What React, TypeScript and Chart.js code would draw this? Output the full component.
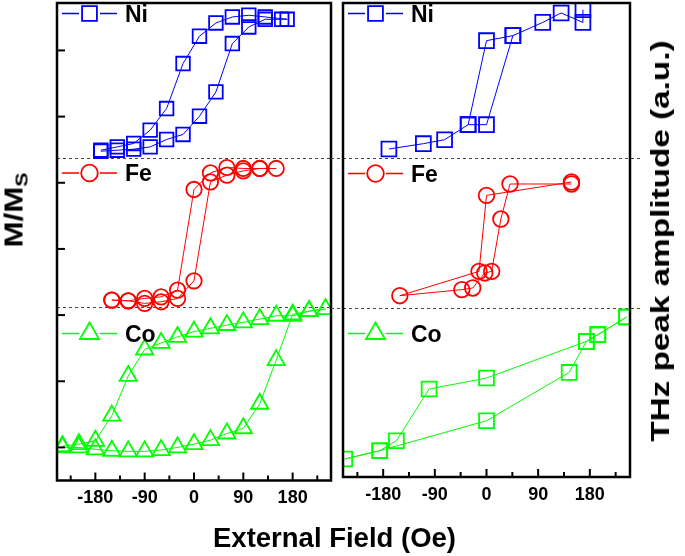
import React, { useEffect, useRef } from 'react';
import { Chart, registerables } from 'chart.js';

Chart.register(...registerables);

const FONT = "'Liberation Sans', Arial, sans-serif";
const BLUE = '#0000FF';
const RED = '#FF0000';
const GREEN = '#00FF00';

// axis ticks (Oe)
const X_TICKS = [-225, -180, -135, -90, -45, 0, 45, 90, 135, 180, 225];
const X_LABELED = [-180, -90, 0, 90, 180];
const LEFT_Y_TICKS = [0, 1, 2, 3, 4, 5, 6];
const LEFT_SEPARATORS = [4.38, 2.12];
const RIGHT_SEPARATORS = [4.32, 2.05];

// Left panel: M/Ms loops (offset per element)
const NI_LEFT_FIELD = [-170, -140, -110, -80, -50, -20, 10, 40, 70, 100, 130, 160, 170, 130, 100, 70, 40, 10, -20, -50, -80, -110, -140, -170];
const NI_LEFT_M = [4.477, 4.492, 4.508, 4.542, 4.654, 4.73, 5.006, 5.373, 6.104, 6.355, 6.471, 6.471, 6.471, 6.506, 6.532, 6.506, 6.415, 6.215, 5.802, 5.122, 4.795, 4.594, 4.542, 4.492];

const FE_LEFT_FIELD = [-150, -120, -90, -60, -30, 0, 30, 60, 90, 120, 150, 120, 90, 60, 30, 0, -30, -60, -90, -120, -150];
const FE_LEFT_M = [2.227, 2.216, 2.177, 2.201, 2.252, 2.518, 4.014, 4.115, 4.18, 4.216, 4.216, 4.216, 4.216, 4.231, 4.15, 3.899, 2.378, 2.276, 2.252, 2.216, 2.227];

const CO_LEFT_FIELD = [-240, -210, -180, -150, -120, -90, -60, -30, 0, 30, 60, 90, 120, 150, 180, 210, 240, 210, 180, 150, 120, 90, 60, 30, 0, -30, -60, -90, -120, -150, -180, -210, -240];
const CO_LEFT_M = [0.0, 0.0, -0.03, -0.05, -0.06, -0.06, -0.04, 0.0, 0.05, 0.11, 0.21, 0.29, 0.66, 1.32, 2.01, 2.06, 2.09, 2.06, 1.99, 1.99, 1.94, 1.89, 1.85, 1.8, 1.75, 1.67, 1.58, 1.48, 1.08, 0.48, 0.1, 0.05, 0.02];

// Right panel: THz peak amplitude (offset per element); null = gap
const NI_RIGHT_FIELD = [-170, -110, -73, -32, 0, 46, 98, 130, 168, 168, null, -32, 0, 46];
const NI_RIGHT_A = [4.455, 4.535, 4.595, 4.822, 4.822, 6.167, 6.367, 6.509, 6.367, 6.559, null, 4.822, 6.091, 6.167];

const FE_RIGHT_FIELD = [148, 0, -13, -151, -43, -24, -3, 9, 25, 41, 148];
const FE_RIGHT_A = [3.956, 3.754, 2.606, 2.239, 2.33, 2.355, 2.582, 2.606, 3.397, 3.926, 3.926];

const CO_RIGHT_FIELD = [244, 194, 174, 0, -100, -157, -186, -247, -186, 0, 144, 174, 194, 244];
const CO_RIGHT_A = [1.917, 1.65, 1.548, 0.995, 0.829, 0.048, -0.103, -0.228, -0.103, 0.35, 1.08, 1.548, 1.65, 1.917];

type Entry = { label: string; color: string; style: string; r: number; dy: number };

const LEFT_LEGEND: Entry[] = [
  { label: 'Ni', color: BLUE, style: 'rect', r: 10.5, dy: 10.5 },
  { label: 'Fe', color: RED, style: 'circle', r: 8.3, dy: 170 },
  { label: 'Co', color: GREEN, style: 'triangle', r: 11, dy: 330.5 },
];
const RIGHT_LEGEND: Entry[] = [
  { label: 'Ni', color: BLUE, style: 'rect', r: 10.5, dy: 10.5 },
  { label: 'Fe', color: RED, style: 'circle', r: 8.3, dy: 170.5 },
  { label: 'Co', color: GREEN, style: 'triangle', r: 11, dy: 330.5 },
];

function dataset(fields: (number | null)[], values: (number | null)[], color: string, style: string, radius: number) {
  return {
    data: fields.map((x, i) => ({ x, y: values[i] })),
    showLine: true,
    borderColor: color,
    borderWidth: 1,
    pointStyle: style,
    pointRadius: radius,
    pointBorderColor: color,
    pointBackgroundColor: 'rgba(255,255,255,0)',
    pointBorderWidth: 1.8,
    tension: 0,
    spanGaps: false,
    clip: 0,
  };
}

function drawMarker(ctx: CanvasRenderingContext2D, style: string, x: number, y: number, r: number) {
  ctx.beginPath();
  if (style === 'rect') {
    const s = r * Math.SQRT1_2;
    ctx.rect(x - s, y - s, 2 * s, 2 * s);
  } else if (style === 'circle') {
    ctx.arc(x, y, r, 0, Math.PI * 2);
  } else {
    ctx.moveTo(x, y - r);
    ctx.lineTo(x + r * 0.866, y + r * 0.5);
    ctx.lineTo(x - r * 0.866, y + r * 0.5);
    ctx.closePath();
  }
  ctx.stroke();
}

function panelPlugin(name: string, separators: number[], yTicks: number[], legend: Entry[], sepFrom: (a: any) => number, sepTo: (a: any, w: number) => number) {
  return {
    id: 'panel' + name,
    beforeDatasetsDraw(chart: any) {
      const { ctx, chartArea: a, scales } = chart;
      ctx.save();
      ctx.strokeStyle = '#444';
      ctx.lineWidth = 1;
      ctx.setLineDash([3, 3]);
      separators.forEach((v) => {
        const py = Math.round(scales.y.getPixelForValue(v)) + 0.5;
        ctx.beginPath();
        ctx.moveTo(sepFrom(a), py);
        ctx.lineTo(sepTo(a, chart.width), py);
        ctx.stroke();
      });
      ctx.restore();
    },
    afterDatasetsDraw(chart: any) {
      const { ctx, chartArea: a, scales } = chart;
      ctx.save();
      ctx.strokeStyle = '#000';
      ctx.lineWidth = 2;
      scales.x.ticks.forEach((t: any) => {
        const px = scales.x.getPixelForValue(t.value);
        const len = X_LABELED.includes(t.value) ? 8 : 5;
        ctx.beginPath();
        ctx.moveTo(px, a.bottom);
        ctx.lineTo(px, a.bottom - len);
        ctx.stroke();
      });
      yTicks.forEach((v) => {
        const py = scales.y.getPixelForValue(v);
        ctx.beginPath();
        ctx.moveTo(a.left, py);
        ctx.lineTo(a.left + 8, py);
        ctx.stroke();
      });
      ctx.lineWidth = 2.5;
      ctx.strokeRect(a.left, a.top, a.right - a.left, a.bottom - a.top);
      // legends
      legend.forEach((e) => {
        const y = a.top + e.dy;
        const x0 = a.left;
        ctx.strokeStyle = e.color;
        ctx.lineWidth = 1.5;
        ctx.beginPath();
        ctx.moveTo(x0 + 5, y);
        ctx.lineTo(x0 + 22, y);
        ctx.moveTo(x0 + 43, y);
        ctx.lineTo(x0 + 60, y);
        ctx.stroke();
        ctx.lineWidth = 1.8;
        drawMarker(ctx, e.style, x0 + 32.5, y, e.r);
        ctx.fillStyle = '#000';
        ctx.font = `bold 23px ${FONT}`;
        ctx.textBaseline = 'alphabetic';
        ctx.textAlign = 'left';
        ctx.fillText(e.label, x0 + 68, y + 8.4);
      });
      ctx.restore();
    },
  };
}

function config(datasets: any[], padding: any, axisHeight: number, yMax: number, plugin: any) {
  return {
    type: 'scatter' as const,
    data: { datasets },
    options: {
      animation: false as const,
      responsive: false,
      maintainAspectRatio: false,
      layout: { padding, autoPadding: false },
      plugins: { legend: { display: false }, tooltip: { enabled: false } },
      scales: {
        x: {
          type: 'linear' as const,
          min: -250,
          max: 250,
          afterBuildTicks: (s: any) => {
            s.ticks = X_TICKS.map((v) => ({ value: v }));
          },
          afterFit: (s: any) => {
            s.height = axisHeight;
          },
          grid: { display: false, drawTicks: false },
          border: { display: false },
          ticks: {
            autoSkip: false,
            maxRotation: 0,
            padding: 7,
            color: '#000',
            font: { family: FONT, size: 18, weight: 'bold' as const },
            callback: (v: any) => (X_LABELED.includes(v) ? String(v) : ''),
          },
        },
        y: { type: 'linear' as const, min: -0.5, max: yMax, display: false },
      },
    },
    plugins: [plugin],
  };
}

export default function App() {
  const leftRef = useRef<HTMLCanvasElement>(null);
  const rightRef = useRef<HTMLCanvasElement>(null);

  useEffect(() => {
    const left = new Chart(
      leftRef.current as HTMLCanvasElement,
      config(
        [
          dataset(NI_LEFT_FIELD, NI_LEFT_M, BLUE, 'rect', 9.6),
          dataset(FE_LEFT_FIELD, FE_LEFT_M, RED, 'circle', 7.7),
          dataset(CO_LEFT_FIELD, CO_LEFT_M, GREEN, 'triangle', 10),
        ],
        { left: 57, right: 5, top: 3, bottom: 0 },
        75.5,
        6.717,
        panelPlugin('L', LEFT_SEPARATORS, LEFT_Y_TICKS, LEFT_LEGEND, (a) => a.left, (a) => a.right)
      ) as any
    );
    const right = new Chart(
      rightRef.current as HTMLCanvasElement,
      config(
        [
          dataset(NI_RIGHT_FIELD, NI_RIGHT_A, BLUE, 'rect', 10.5),
          dataset(FE_RIGHT_FIELD, FE_RIGHT_A, RED, 'circle', 7.8),
          dataset(CO_RIGHT_FIELD, CO_RIGHT_A, GREEN, 'rect', 10.5),
        ],
        { left: 12, right: 55, top: 3, bottom: 0 },
        79,
        6.66,
        panelPlugin('R', RIGHT_SEPARATORS, [], RIGHT_LEGEND, () => 0, (a) => a.right + 10)
      ) as any
    );
    return () => {
      left.destroy();
      right.destroy();
    };
  }, []);

  const text: React.CSSProperties = {
    position: 'absolute',
    fontFamily: FONT,
    fontWeight: 'bold',
    whiteSpace: 'nowrap',
    color: '#000',
  };

  return (
    <div style={{ position: 'absolute', left: 0, top: 0, width: 685, height: 556, background: '#fff', overflow: 'hidden' }}>
      <canvas ref={leftRef} width={336} height={556} style={{ position: 'absolute', left: 0, top: 0, width: 336, height: 556, display: 'block' }} />
      <canvas ref={rightRef} width={354} height={556} style={{ position: 'absolute', left: 331, top: 0, width: 354, height: 556, display: 'block' }} />
      <div style={{ ...text, left: 213, top: 524, fontSize: 27.5, lineHeight: '27.5px' }}>External Field (Oe)</div>
      <div
        style={{
          ...text,
          left: 659.6,
          top: 241,
          fontSize: 26,
          lineHeight: '26px',
          transform: 'translate(-50%, -50%) rotate(-90deg) scaleX(1.28)',
        }}
      >
        THz peak amplitude (a.u.)
      </div>
      <div
        style={{
          ...text,
          left: 14,
          top: 210,
          fontSize: 25,
          lineHeight: '25px',
          transform: 'translate(-50%, -50%) rotate(-90deg) scaleX(1.25)',
        }}
      >
        M/M<span style={{ fontSize: 17, verticalAlign: -5, lineHeight: 0 }}>S</span>
      </div>
    </div>
  );
}
